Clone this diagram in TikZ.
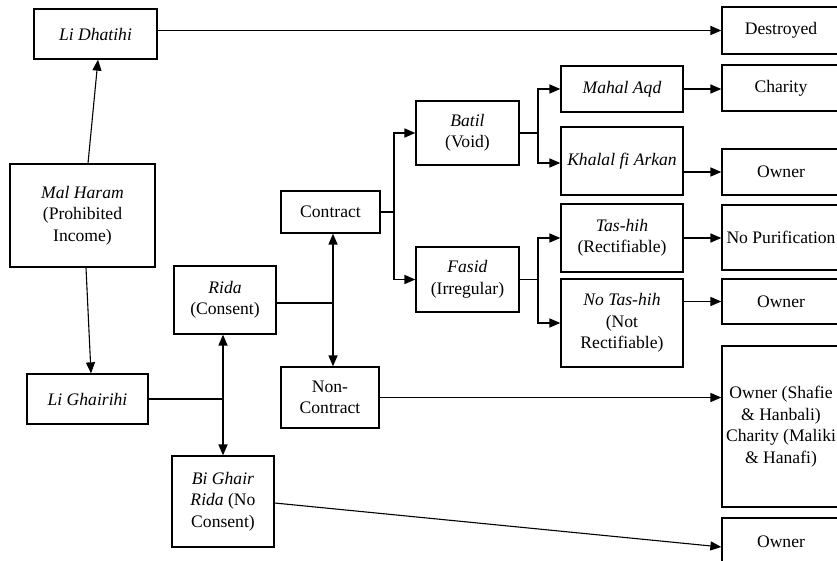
\documentclass[tikz,border=0pt]{standalone}
\usepackage{fontspec}
\setmainfont{Liberation Serif}
\usetikzlibrary{arrows.meta,calc}
\tikzset{
  box/.style={draw, line width=1.3pt, rectangle, inner sep=0pt, align=center, font=\fontsize{17.6}{21.5}\selectfont},
  con/.style={line width=1.7pt},
  thin con/.style={line width=1.1pt},
  tip/.style={-{Triangle[length=11pt,width=9pt]}},
  btip/.style={{Triangle[length=11pt,width=9pt]}-{Triangle[length=11pt,width=9pt]}},
}
\begin{document}
\begin{tikzpicture}[x=1pt,y=-1pt]
\useasboundingbox (0,0) rectangle (837,561);
\clip (0,0) rectangle (837,561);
\fill[white] (0,0) rectangle (837,561);
% left column
\node[box, minimum width=123pt, minimum height=50pt] (dhat) at (95.5,34) {\textit{Li Dhatihi}};
\node[box, minimum width=145pt, minimum height=103pt] (mal) at (82.5,215.5) {\textit{Mal Haram}\\(Prohibited\\Income)};
\node[box, minimum width=121pt, minimum height=50pt] (ghai) at (87.5,399) {\textit{Li Ghairihi}};
\node[box, minimum width=102pt, minimum height=68pt] (rida) at (225,300) {\textit{Rida}\\(Consent)};
\node[box, minimum width=102pt, minimum height=91pt] (bigh) at (223,501.5) {\textit{Bi Ghair}\\\textit{Rida} (No\\Consent)};
\node[box, minimum width=99pt, minimum height=42pt] (contr) at (330.5,212) {Contract};
\node[box, minimum width=98pt, minimum height=61pt] (nonc) at (330,397.5) {Non-\\Contract};
\node[box, minimum width=103pt, minimum height=64pt] (batil) at (467.5,133) {\textit{Batil}\\(Void)};
\node[box, minimum width=103pt, minimum height=65pt] (fasid) at (467.5,279.5) {\textit{Fasid}\\(Irregular)};
\node[box, minimum width=122pt, minimum height=46pt] (mahal) at (622,89) {\textit{Mahal Aqd}};
\node[box, minimum width=122pt, minimum height=68pt] (khalal) at (622,161) {\textit{Khalal fi Arkan}};
\node[box, minimum width=122pt, minimum height=68pt] (tash) at (622,238) {\textit{Tas-hih}\\(Rectifiable)};
\node[box, minimum width=122pt, minimum height=88pt] (notash) at (622,323) {\textit{No Tas-hih}\\(Not\\Rectifiable)};
% right column
\node[box, minimum width=118pt, minimum height=47pt] (destr) at (781,30.5) {Destroyed};
\node[box, minimum width=118pt, minimum height=46pt] (char) at (781,88) {Charity};
\node[box, minimum width=118pt, minimum height=46pt] (own1) at (781,172) {Owner};
\node[box, minimum width=118pt, minimum height=65pt] (nopur) at (781,237.5) {No Purification};
\node[box, minimum width=118pt, minimum height=45pt] (own2) at (781,301.5) {Owner};
\node[box, minimum width=118pt, minimum height=161pt] (shaf) at (781,426.5) {Owner (Shafie\\\& Hanbali)\\Charity (Maliki\\\& Hanafi)};
\node[box, minimum width=118pt, minimum height=48pt] (own3) at (781,542) {Owner};
% connectors
\draw[thin con, tip] ([xshift=5.5pt]mal.north) -- ([xshift=2.5pt]dhat.south);
\draw[thin con, tip] ([xshift=3.5pt]mal.south) -- ([xshift=3.5pt]ghai.north);
\draw[con, tip] (dhat.east |- destr.west) -- (destr.west);
\draw[con] (ghai.east) -- (ghai.east -| bigh.north);
\draw[con, btip] (rida.south -| bigh.north) -- (bigh.north);
\coordinate (j1) at (333,303);
\draw[con] ([yshift=-3pt]rida.east) -- (j1);
\draw[con, btip] (contr.south -| j1) -- (nonc.north -| j1);
\draw[con, tip] (nonc.east) -- (nonc.east -| shaf.west);
\draw[thin con, tip] ([yshift=-1.5pt]bigh.east) -- ([yshift=-5pt]own3.west);
\draw[con, tip] (contr.east) -- ++(13,0) |- (batil.west);
\draw[con, tip] (contr.east) -- ++(13,0) |- (fasid.west);
\draw[con, tip] (batil.east) -- ++(18,0) |- (mahal.west);
\draw[con, tip] (batil.east) -- ++(18,0) |- ([yshift=-2pt]khalal.west);
\draw[con, tip] (fasid.east) -- ++(18,0) |- (tash.west);
\draw[con, tip] (fasid.east) -- ++(18,0) |- (notash.west);
\draw[con, tip] (mahal.east) -- (mahal.east -| char.west);
\draw[con, tip] (own1.west -| khalal.east) -- (own1.west);
\draw[con, tip] (tash.east) -- (tash.east -| nopur.west);
\draw[con, tip] (own2.west -| notash.east) -- (own2.west);
\end{tikzpicture}
\end{document}
